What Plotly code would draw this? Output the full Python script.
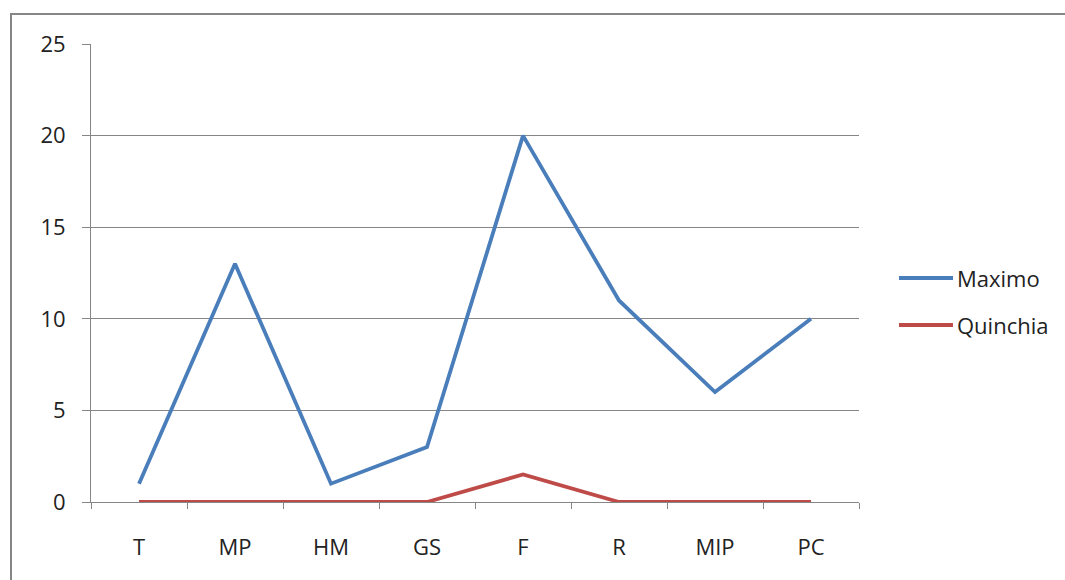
import plotly.graph_objects as go

categories = ["T", "MP", "HM", "GS", "F", "R", "MIP", "PC"]
maximo = [1, 13, 1, 3, 20, 11, 6, 10]
quinchia = [0, 0, 0, 0, 1.5, 0, 0, 0]
y_ticks = [0, 5, 10, 15, 20, 25]

series = [("Maximo", maximo, "#4A7EBB"), ("Quinchia", quinchia, "#BE4B48")]

W, H = 1065, 580
L, R, T, B = 91, 206, 44, 78
pw, ph = W - L - R, H - T - B

font = dict(family="Open Sans, Noto Sans, sans-serif", size=22, color="#222222")

fig = go.Figure()
for name, vals, color in series:
    fig.add_trace(go.Scatter(x=categories, y=vals, name=name, mode="lines",
                             line=dict(color=color, width=3.8)))

fig.update_layout(
    width=W, height=H,
    margin=dict(l=L, r=R, t=T, b=B),
    paper_bgcolor="white", plot_bgcolor="white",
    font=font,
    showlegend=False,
    xaxis=dict(type="category", range=[-0.5, 7.5], tickson="boundaries",
               ticks="outside", ticklen=6, tickcolor="#868686",
               showline=True, linecolor="#868686", linewidth=1,
               showgrid=False, ticklabelstandoff=26, fixedrange=True),
    yaxis=dict(range=[0, 25], tickvals=y_ticks, ticks="outside", ticklen=8,
               tickcolor="#868686", showline=True, linecolor="#868686", linewidth=1,
               showgrid=True, gridcolor="#868686", gridwidth=1, zeroline=False,
               ticklabelstandoff=12, fixedrange=True),
)

# legend: line sample plus label for each series
def px_x(px):
    return (px - L) / pw

def px_y(py):
    return 1 - (py - T) / ph

for i, (name, vals, color) in enumerate(series):
    yy = 278 + 47 * i
    fig.add_shape(type="line", xref="paper", yref="paper",
                  x0=px_x(899), x1=px_x(953), y0=px_y(yy), y1=px_y(yy),
                  line=dict(color=color, width=3.8))
    fig.add_annotation(xref="paper", yref="paper", x=px_x(955), y=px_y(yy),
                       text=name, showarrow=False, xanchor="left", yanchor="middle",
                       font=font)

# outer chart frame
fig.add_shape(type="rect", xref="paper", yref="paper",
              x0=px_x(11), x1=px_x(W + 10),
              y0=px_y(H + 10), y1=px_y(14),
              line=dict(color="#868686", width=2), layer="below")

fig.write_html("out.html")
